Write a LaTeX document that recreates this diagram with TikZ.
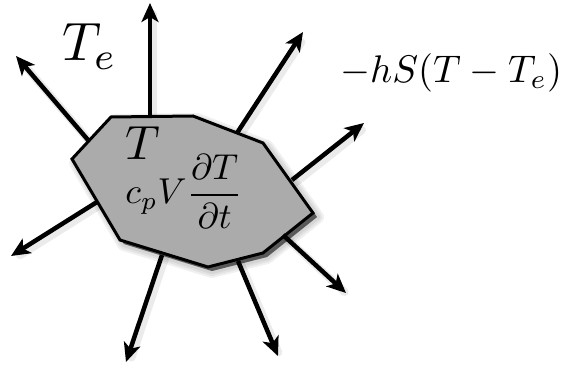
\documentclass[tikz,border=0pt]{standalone}
\usetikzlibrary{arrows.meta,calc}
\begin{document}
\begin{tikzpicture}[x=1pt,y=-1pt,
  body/.style={fill=black!33, draw=black, line width=3pt, line join=miter},
  blur/.style={draw=black, fill=black, line join=round, draw opacity=0.06, fill opacity=0.25},
  flux/.style={line width=4.5pt, -{Stealth[length=19pt,width=17pt,inset=5pt]}},
  fluxshadow/.style={line width=8pt, draw=black, draw opacity=0.08, line cap=round},
  lbl/.style={inner sep=0pt, anchor=base west}]
\useasboundingbox (0,0) rectangle (563,366);
% polygon vertices
\coordinate (p1) at (111,117);
\coordinate (p2) at (193,116);
\coordinate (p3) at (263,143);
\coordinate (p4) at (313,213);
\coordinate (p5) at (263,253);
\coordinate (p6) at (208,267);
\coordinate (p7) at (120,240);
\coordinate (p8) at (72,159);
% arrow start points on the boundary
\coordinate (s1) at (150,117);
\coordinate (s2) at (88,140);
\coordinate (s3) at (237,133);
\coordinate (s4) at (292,180);
\coordinate (s5) at (283,235);
\coordinate (s6) at (238,261);
\coordinate (s7) at (162,255);
\coordinate (s8) at (97,202);
% arrow ends
\coordinate (t1) at (150,3);
\coordinate (t2) at (16,56);
\coordinate (t3) at (303,32);
\coordinate (t4) at (364,123);
\coordinate (t5) at (346,293);
\coordinate (t6) at (278,356);
\coordinate (t7) at (126,362);
\coordinate (t8) at (11,256);
% soft shadows
\begin{scope}[transform canvas={shift={(3pt,-3pt)}}]
  \foreach \i in {1,...,8} {\path[fluxshadow] (s\i) -- ($(s\i)!0.93!(t\i)$);}
\end{scope}
\begin{scope}[transform canvas={shift={(4pt,-4pt)}}]
  \foreach \w in {14,10,6} {
    \path[blur, line width=\w pt] (p1) -- (p2) -- (p3) -- (p4) -- (p5) -- (p6) -- (p7) -- (p8) -- cycle;
  }
\end{scope}
\path[body] (p1) -- (p2) -- (p3) -- (p4) -- (p5) -- (p6) -- (p7) -- (p8) -- cycle;
\foreach \i in {1,...,8} {\draw[flux] (s\i) -- (t\i);}
% labels
\node[lbl] (te) at (62,61) {\scalebox{5.4}{$T_e$}};
\node[lbl] (tin) at (125,160) {\scalebox{4.8}{$T$}};
\node[inner sep=0pt, anchor=base] (cap) at (184,204) {\scalebox{3.6}{$\displaystyle c_pV\frac{\partial T}{\partial t}$}};
\node[lbl] (flx) at (340,83) {\scalebox{3.85}{$-hS(T-T_e)$}};
\end{tikzpicture}
\end{document}
